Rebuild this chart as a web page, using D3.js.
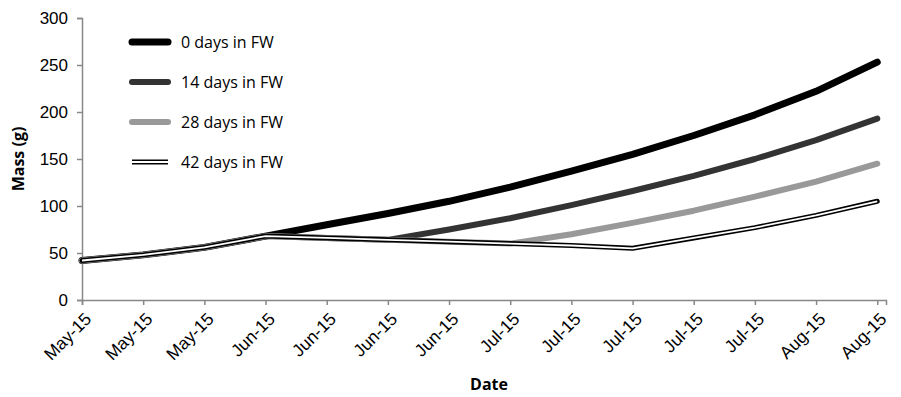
<!DOCTYPE html>
<html>
<head>
<meta charset="utf-8">
<script src="https://d3js.org/d3.v7.min.js"></script>
<style>
    body { margin: 0; background: #fff; }
    svg { font-family: "Open Sans", sans-serif; }
</style>
</head>
<body>
<svg width="901" height="397"></svg>
<script>
    // weekly readings, day 0 .. day 91
    var days = [0, 7, 14, 21, 28, 35, 42, 49, 56, 63, 70, 77, 84, 91];
    var tickLabels = ['May-15', 'May-15', 'May-15', 'Jun-15', 'Jun-15', 'Jun-15', 'Jun-15',
        'Jul-15', 'Jul-15', 'Jul-15', 'Jul-15', 'Jul-15', 'Aug-15', 'Aug-15'];

    var fw0 = [42, 48, 56, 68, 80, 92, 105, 120, 137, 155, 175, 197, 222, 253];
    var fw14 = [42, 48, 56, 68, 66, 64, 75, 87, 101, 116, 132, 150, 170, 193];
    var fw28 = [42, 48, 56, 68, 66, 64, 62, 60, 70, 82, 95, 110, 126, 145];
    var fw42 = [42, 48, 56, 68, 66, 64, 62, 60, 58, 55, 66, 77, 90, 105];

    var seriesNames = ['0 days in FW', '14 days in FW', '28 days in FW', '42 days in FW'];
    var seriesValues = [fw0, fw14, fw28, fw42];

    var styles = [
        { color: '#000', width: 7 },
        { color: '#333', width: 6 },
        { color: '#999', width: 6 },
        { color: '#000', width: 5, inner: '#fff', innerWidth: 1.8 }
    ];

    var svg = d3.select('svg');

    var x = d3.scaleLinear()
        .domain([0, 92])
        .range([82, 886]);
    var y = d3.scaleLinear()
        .domain([0, 300])
        .range([300, 18]);

    var xAxis = d3.axisBottom(x)
        .tickValues(days)
        .tickFormat(function(d, i) { return tickLabels[i]; })
        .tickSizeOuter(0)
        .tickSize(5);
    var yAxis = d3.axisLeft(y)
        .tickValues([0, 50, 100, 150, 200, 250, 300])
        .tickSizeOuter(0)
        .tickSize(5)
        .tickPadding(9);

    var gx = svg.append('g')
        .attr('transform', 'translate(0,300)')
        .call(xAxis);
    gx.selectAll('text')
        .attr('font-size', 17.5)
        .attr('fill', '#000')
        .attr('text-anchor', 'end')
        .attr('dy', 0)
        .attr('y', 0)
        .attr('x', 0)
        .attr('transform', 'translate(10,20) rotate(-45)');

    var gy = svg.append('g')
        .attr('transform', 'translate(82,0)')
        .call(yAxis);
    gy.selectAll('text')
        .attr('font-size', 17)
        .attr('fill', '#000');

    svg.selectAll('.domain, .tick line')
        .attr('stroke', '#888')
        .attr('stroke-width', 1.5);

    var line = d3.line()
        .x(function(d, i) { return x(days[i]); })
        .y(function(d) { return y(d); });

    seriesValues.forEach(function(vals, k) {
        var s = styles[k];
        svg.append('path')
            .attr('d', line(vals))
            .attr('fill', 'none')
            .attr('stroke', s.color)
            .attr('stroke-width', s.width)
            .attr('stroke-linecap', 'round')
            .attr('stroke-linejoin', 'round');
        if (s.inner) {
            svg.append('path')
                .attr('d', line(vals))
                .attr('fill', 'none')
                .attr('stroke', s.inner)
                .attr('stroke-width', s.innerWidth)
                .attr('stroke-linejoin', 'round');
        }
    });

    // legend
    var legendY = [42, 82, 122, 162];
    seriesNames.forEach(function(name, k) {
        var s = styles[k];
        var g = svg.append('g').attr('transform', 'translate(0,' + legendY[k] + ')');
        g.append('line')
            .attr('x1', 132).attr('x2', 168)
            .attr('stroke', s.color)
            .attr('stroke-width', s.width)
            .attr('stroke-linecap', s.inner ? 'butt' : 'round');
        if (s.inner) {
            g.append('line')
                .attr('x1', 130).attr('x2', 170)
                .attr('stroke', s.inner)
                .attr('stroke-width', s.innerWidth);
        }
        g.append('text')
            .attr('x', 181)
            .attr('y', 6)
            .attr('font-size', 16)
            .text(name);
    });

    svg.append('text')
        .attr('transform', 'translate(24,159) rotate(-90)')
        .attr('text-anchor', 'middle')
        .attr('font-size', 16)
        .attr('font-weight', 'bold')
        .text('Mass (g)');

    svg.append('text')
        .attr('x', 489)
        .attr('y', 390)
        .attr('text-anchor', 'middle')
        .attr('font-size', 16)
        .attr('font-weight', 'bold')
        .text('Date');
</script>
</body>
</html>
